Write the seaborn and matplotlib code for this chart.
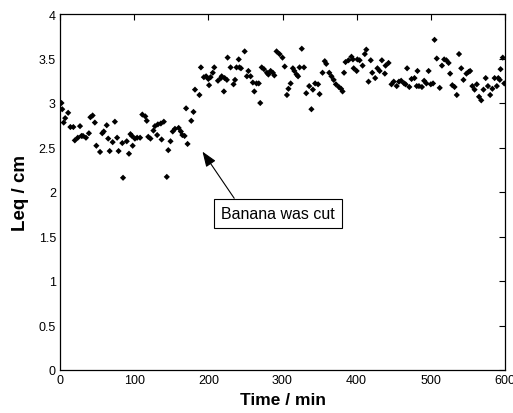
import matplotlib
matplotlib.use("Agg")
import matplotlib.pyplot as plt
import seaborn as sns
import pandas as pd

time_min = [2, 3, 5, 7, 11, 14, 18, 20, 24, 27, 29, 31, 35, 39, 41, 44, 47, 49, 54, 57, 59, 63, 65, 67,
            71, 74, 77, 79, 84, 85, 90, 93, 95, 97, 98, 101, 104, 108, 111, 115, 117, 119, 122, 126, 128,
            131, 132, 136, 137, 140, 144, 146, 149, 152, 155, 160, 163, 165, 168, 170, 172, 177, 180, 182,
            188, 190, 194, 197, 200, 201, 203, 206, 208, 213, 217, 218, 221, 222, 225, 226, 230, 234, 236,
            238, 241, 242, 244, 249, 252, 254, 257, 260, 262, 265, 268, 270, 272, 275, 279, 281, 284, 287,
            289, 292, 296, 300, 303, 306, 308, 311, 314, 316, 319, 321, 323, 326, 329, 332, 336, 339, 341,
            344, 348, 350, 354, 357, 359, 363, 366, 369, 372, 376, 379, 381, 383, 385, 389, 393, 395, 396,
            400, 401, 404, 408, 411, 413, 416, 419, 421, 425, 428, 431, 434, 438, 439, 443, 447, 450, 454,
            457, 460, 464, 466, 468, 471, 474, 478, 481, 482, 484, 488, 491, 494, 497, 500, 503, 505, 508,
            512, 515, 518, 521, 524, 526, 529, 532, 535, 538, 541, 544, 548, 551, 553, 556, 559, 562, 565,
            568, 571, 574, 577, 580, 583, 586, 589, 591, 593, 594, 597, 599]
leq_cm = [3.00, 2.93, 2.78, 2.83, 2.89, 2.73, 2.73, 2.58, 2.61, 2.74, 2.63, 2.63, 2.61, 2.66, 2.84, 2.86,
          2.78, 2.52, 2.45, 2.66, 2.68, 2.75, 2.60, 2.46, 2.56, 2.79, 2.61, 2.46, 2.55, 2.16, 2.57, 2.43,
          2.65, 2.63, 2.52, 2.60, 2.61, 2.61, 2.87, 2.85, 2.80, 2.62, 2.60, 2.69, 2.74, 2.64, 2.76, 2.77,
          2.59, 2.79, 2.17, 2.47, 2.57, 2.68, 2.71, 2.72, 2.68, 2.64, 2.63, 2.94, 2.54, 2.80, 2.90, 3.15,
          3.09, 3.40, 3.29, 3.30, 3.27, 3.20, 3.29, 3.34, 3.40, 3.25, 3.28, 3.30, 3.13, 3.28, 3.26, 3.51,
          3.40, 3.21, 3.26, 3.40, 3.49, 3.40, 3.39, 3.58, 3.30, 3.36, 3.30, 3.23, 3.13, 3.22, 3.22, 3.00,
          3.40, 3.38, 3.34, 3.32, 3.36, 3.34, 3.31, 3.58, 3.55, 3.51, 3.41, 3.09, 3.16, 3.22, 3.39, 3.36,
          3.32, 3.30, 3.40, 3.61, 3.40, 3.11, 3.19, 2.93, 3.15, 3.22, 3.21, 3.10, 3.34, 3.47, 3.44, 3.34,
          3.30, 3.26, 3.21, 3.18, 3.16, 3.13, 3.34, 3.46, 3.48, 3.52, 3.49, 3.39, 3.36, 3.49, 3.48, 3.42,
          3.55, 3.60, 3.24, 3.48, 3.34, 3.28, 3.39, 3.36, 3.48, 3.33, 3.42, 3.45, 3.21, 3.24, 3.19, 3.24,
          3.25, 3.22, 3.21, 3.39, 3.18, 3.27, 3.28, 3.19, 3.36, 3.19, 3.18, 3.25, 3.22, 3.36, 3.21, 3.22,
          3.71, 3.50, 3.17, 3.42, 3.49, 3.48, 3.45, 3.33, 3.20, 3.18, 3.09, 3.55, 3.39, 3.26, 3.33, 3.35,
          3.36, 3.19, 3.15, 3.21, 3.07, 3.03, 3.15, 3.28, 3.19, 3.09, 3.16, 3.28, 3.19, 3.28, 3.26, 3.38,
          3.51, 3.22]

x_ticks = [0, 100, 200, 300, 400, 500, 600]
y_ticks = [0, 0.5, 1, 1.5, 2, 2.5, 3, 3.5, 4]
y_tick_labels = ["0", "0.5", "1", "1.5", "2", "2.5", "3", "3.5", "4"]

df = pd.DataFrame({"Time": time_min, "Leq": leq_cm})

sns.set_style("white")
plt.rcParams["font.family"] = ["Liberation Sans", "DejaVu Sans"]
plt.rcParams["text.color"] = "black"
plt.rcParams["axes.labelcolor"] = "black"

fig = plt.figure(figsize=(5.13, 4.14), dpi=100)
ax = fig.add_axes([60 / 513, 43 / 414, 445 / 513, 356 / 414])

sns.scatterplot(data=df, x="Time", y="Leq", ax=ax, color="black", marker="D",
                s=10, linewidth=0, edgecolor="none", legend=False)

ax.set_xlim(0, 600)
ax.set_ylim(0, 4)
ax.set_xticks(x_ticks)
ax.set_yticks(y_ticks)
ax.set_yticklabels(y_tick_labels)
ax.tick_params(direction="in", length=4, width=0.8, top=True, right=True,
               labelsize=9, colors="black", pad=3)
for sp in ax.spines.values():
    sp.set_visible(True)
    sp.set_color("black")
    sp.set_linewidth(0.9)

ax.set_xlabel("Time / min", fontsize=12.5, fontweight="bold", labelpad=4)
ax.set_ylabel("Leq / cm", fontsize=13.5, fontweight="bold", labelpad=7)

ax.annotate("Banana was cut", xy=(190, 2.48), xytext=(294, 1.76),
            ha="center", va="center", fontsize=11.5,
            bbox=dict(boxstyle="square,pad=0.45", fc="white", ec="black", lw=0.8),
            arrowprops=dict(arrowstyle="-|>,head_length=0.8,head_width=0.3", color="black",
                            lw=0.8, relpos=(0.16, 1.0), shrinkA=0, shrinkB=2))

fig.savefig("out.png", dpi=100)
